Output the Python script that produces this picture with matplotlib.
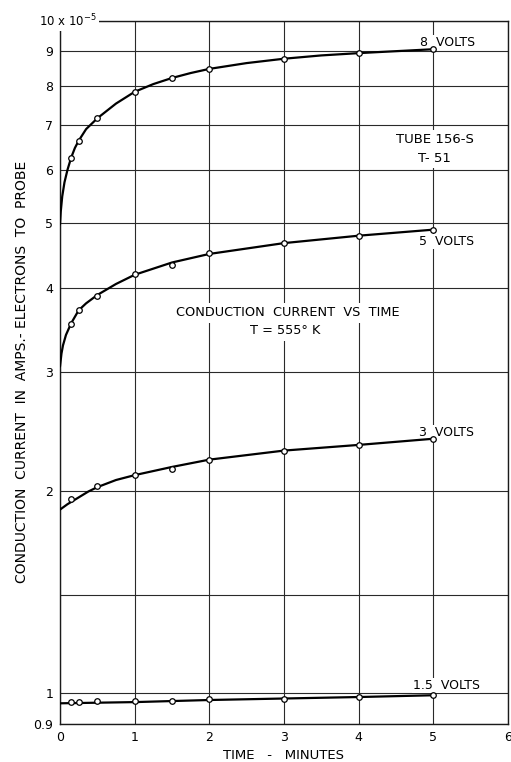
"""Conduction current vs time for tube 156-S (T-51), log current axis."""

import matplotlib
matplotlib.use('Agg')
import matplotlib.pyplot as plt

# Measured points (current in units of 1e-5 A)
times = [0.15, 0.25, 0.5, 1, 1.5, 2, 3, 4, 5]
v8_points = [6.26, 6.63, 7.16, 7.84, 8.22, 8.49, 8.78, 8.95, 9.07]
v5_points = [3.54, 3.71, 3.90, 4.20, 4.34, 4.51, 4.67, 4.79, 4.89]
v3_times = [0.15, 0.5, 1, 1.5, 2, 3, 4, 5]
v3_points = [1.945, 2.03, 2.11, 2.155, 2.225, 2.295, 2.34, 2.39]
v15_points = [0.969, 0.971, 0.972, 0.972, 0.975, 0.979, 0.982, 0.986, 0.993]

# Hand-drawn fitted curves
v8_curve_t = [0, 0.01, 0.03, 0.06, 0.1, 0.15, 0.2, 0.25, 0.35, 0.5, 0.75, 1,
              1.25, 1.5, 1.75, 2, 2.5, 3, 3.5, 4, 4.5, 5]
v8_curve = [4.98, 5.2, 5.48, 5.75, 6.0, 6.26, 6.47, 6.63, 6.9, 7.16, 7.53, 7.84,
            8.05, 8.22, 8.36, 8.48, 8.65, 8.78, 8.88, 8.95, 9.01, 9.07]
v5_curve_t = [0, 0.02, 0.04, 0.08, 0.15, 0.25, 0.35, 0.5, 0.75, 1, 1.5, 2, 3, 4, 5]
v5_curve = [3.06, 3.2, 3.29, 3.41, 3.55, 3.71, 3.8, 3.91, 4.06, 4.19, 4.37, 4.50,
            4.67, 4.79, 4.89]
v3_curve_t = [0, 0.1, 0.25, 0.38, 0.5, 0.75, 1, 1.5, 2, 3, 4, 5]
v3_curve = [1.875, 1.91, 1.955, 1.995, 2.025, 2.075, 2.11, 2.17, 2.225, 2.295, 2.34, 2.39]
v15_curve_t = [0, 1, 2, 3, 4, 5]
v15_curve = [0.966, 0.970, 0.977, 0.982, 0.987, 0.993]

y_ticks = [0.9, 1, 1.4, 2, 3, 4, 5, 6, 7, 8, 9, 10]
y_tick_labels = ['0.9', '1', '', '2', '3', '4', '5', '6', '7', '8', '9', '']
x_ticks = [0, 1, 2, 3, 4, 5, 6]

curve_labels = [('8  VOLTS', 5.19, 9.28), ('5  VOLTS', 5.18, 4.69),
                ('3  VOLTS', 5.17, 2.44), ('1.5  VOLTS', 5.17, 1.027)]


def configure_plot():
    plt.rcParams.update({
        'font.family': 'DejaVu Sans',
        'font.size': 9,
    })


def draw_series(ax):
    box = dict(facecolor='white', edgecolor='none', pad=0.6)
    series = [(v8_curve_t, v8_curve, times, v8_points),
              (v5_curve_t, v5_curve, times, v5_points),
              (v3_curve_t, v3_curve, v3_times, v3_points),
              (v15_curve_t, v15_curve, times, v15_points)]
    for ct, cy, pt, py in series:
        ax.plot(ct, cy, color='black', lw=1.6, zorder=3,
                solid_capstyle='round', solid_joinstyle='round')
        ax.plot(pt, py, 'o', ms=4, mfc='white', mec='black', mew=0.9, zorder=4)
    # labels sit above the grid but under the curves
    for text, x, y in curve_labels:
        ax.text(x, y, text, ha='center', va='center', fontsize=9,
                bbox=box, zorder=2)


def style_plot(ax):
    ax.set_yscale('log')
    ax.set_xlim(0, 6)
    ax.set_ylim(0.9, 10)
    ax.set_yticks(y_ticks)
    ax.set_yticklabels(y_tick_labels)
    ax.minorticks_off()
    ax.set_xticks(x_ticks)
    ax.set_xticklabels([str(t) for t in x_ticks])
    ax.tick_params(length=0, labelsize=9, pad=5)
    ax.grid(True, color='#2a2a2a', lw=0.8)
    for sp in ax.spines.values():
        sp.set_linewidth(1.0)
        sp.set_color('#1a1a1a')
    ax.set_xlabel('TIME   -   MINUTES', fontsize=9.5, labelpad=4)
    ax.set_ylabel('CONDUCTION  CURRENT  IN  AMPS.- ELECTRONS  TO  PROBE',
                  fontsize=10, labelpad=3)

    # scale note on the top tick
    ax.text(0.083, 10, r'10 x 10$^{-5}$', transform=ax.get_yaxis_transform(),
            ha='right', va='center', fontsize=8.5, clip_on=False, zorder=6,
            bbox=dict(facecolor='white', edgecolor='none', pad=1.5))

    box = dict(facecolor='white', edgecolor='none', pad=2.5)
    ax.text(5.02, 6.45, 'TUBE 156-S\nT- 51', ha='center', va='center',
            fontsize=9.5, linespacing=1.55, bbox=box, zorder=2)
    ax.text(3.05, 3.68, 'CONDUCTION  CURRENT  VS  TIME', ha='center', va='center',
            fontsize=9.3, bbox=box, zorder=2)
    ax.text(3.02, 3.46, 'T = 555° K', ha='center', va='center',
            fontsize=9.3, bbox=box, zorder=2)


def main():
    configure_plot()
    fig = plt.figure(figsize=(5.11, 7.62), dpi=100)
    ax = fig.add_axes([0.1174, 0.0499, 0.8767, 0.9229])
    draw_series(ax)
    style_plot(ax)
    fig.savefig('out.png', dpi=100, facecolor='white')


if __name__ == "__main__":
    main()
